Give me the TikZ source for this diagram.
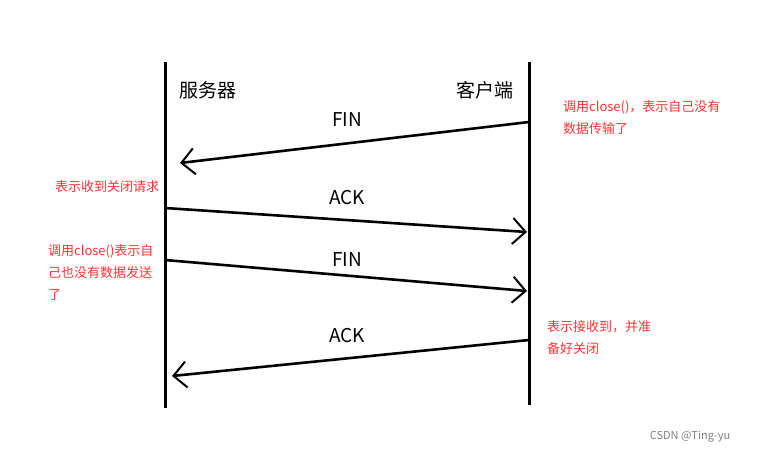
\documentclass[tikz,border=0pt]{standalone}
\usepackage{fontspec}
\setmainfont{Noto Sans CJK SC}
\usetikzlibrary{positioning, arrows.meta}

\begin{document}
\begin{tikzpicture}[
    x=1pt, y=-1pt,
    lifeline/.style={line width=3pt},
    msg/.style={line width=2.6pt, -{Straight Barb[length=13pt, width=26pt, line width=2pt]}},
    side/.style={font=\fontsize{19}{21}\selectfont},
    tag/.style={font=\fontsize{19}{21}\selectfont},
    note/.style={text=red!80!white, font=\fontsize{13}{22}\selectfont, align=left, inner sep=0pt}
]
\useasboundingbox (0,0) rectangle (767,453);

% Lifelines
\coordinate (stop) at (165,62);
\coordinate (sbot) at (165,408);
\coordinate (ctop) at (529,62);
\coordinate (cbot) at (529,405);
\draw[lifeline] (stop) -- (sbot);
\draw[lifeline] (ctop) -- (cbot);

% Nodes
\node[side] (server) at (208,90) {服务器};
\node[side] (client) at (485,90) {客户端};

\coordinate (fin1a) at (529,122);
\coordinate (fin1b) at (180,163);
\coordinate (ack1a) at (165,208);
\coordinate (ack1b) at (527,232);
\coordinate (fin2a) at (165,260);
\coordinate (fin2b) at (527,291);
\coordinate (ack2a) at (529,340);
\coordinate (ack2b) at (172,376);

\node[tag] (fin1) at (347,120) {FIN};
\node[tag] (ack1) at (347,198) {ACK};
\node[tag] (fin2) at (347,260) {FIN};
\node[tag] (ack2) at (347,336) {ACK};

\node[note, anchor=north west] (n1) at (563,100) {调用close()，表示自己没有\\数据传输了};
\node[note, anchor=north west] (n2) at (55,180) {表示收到关闭请求};
\node[note, anchor=north west] (n3) at (48,244) {调用close()表示自\\己也没有数据发送\\了};
\node[note, anchor=north west] (n4) at (547,320) {表示接收到，并准\\备好关闭};

\node[text=gray, font=\fontsize{11}{13}\selectfont] (mark) at (690,437) {CSDN @Ting-yu};

% Arrows
\draw[msg] (fin1a) -- (fin1b);
\draw[msg] (ack1a) -- (ack1b);
\draw[msg] (fin2a) -- (fin2b);
\draw[msg] (ack2a) -- (ack2b);

\end{tikzpicture}
\end{document}
